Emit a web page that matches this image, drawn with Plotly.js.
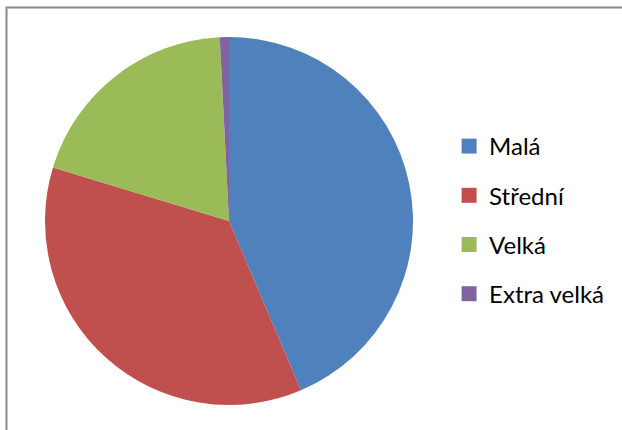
<!DOCTYPE html>
<html>
<head>
<meta charset="utf-8">
<script src="https://cdn.plot.ly/plotly-3.0.1.min.js"></script>
<style>html,body{margin:0;padding:0;background:#fff;}#chart{width:622px;height:430px;}</style>
</head>
<body>
<div id="chart"></div>
<script>
const categories = ["Malá", "Střední", "Velká", "Extra velká"];
const values = [43.6, 36.1, 19.5, 0.8];
const colors = ["#4F81BD", "#C0504D", "#9BBB59", "#8064A2"];

const W = 622, H = 430;
const cx = 229, cy = 221, r = 184;

const pie = {
  type: "pie",
  labels: categories,
  values: values,
  sort: false,
  direction: "clockwise",
  rotation: 0,
  marker: {colors: colors, line: {width: 0}},
  textinfo: "none",
  hoverinfo: "label+percent",
  showlegend: false,
  domain: {x: [(cx - r) / W, (cx + r) / W], y: [(H - cy - r) / H, (H - cy + r) / H]}
};

const legendTraces = categories.map((c, i) => ({
  type: "scatter",
  mode: "markers",
  x: [null], y: [null],
  name: c,
  legendgroup: "g" + i,
  marker: {symbol: "square", size: 15, color: colors[i]},
  hoverinfo: "skip"
}));

const layout = {
  width: W, height: H,
  margin: {l: 0, r: 0, t: 0, b: 0},
  paper_bgcolor: "#fff",
  plot_bgcolor: "rgba(0,0,0,0)",
  xaxis: {visible: false},
  yaxis: {visible: false},
  showlegend: true,
  legend: {
    x: 0.722, y: 0.5 - 5 / H, xanchor: "left", yanchor: "middle",
    font: {family: "Lato, 'Noto Sans', sans-serif", size: 24, color: "#000"},
    tracegroupgap: 15,
    bgcolor: "rgba(0,0,0,0)"
  },
  shapes: [{
    type: "rect", xref: "paper", yref: "paper",
    x0: 6.5 / W, x1: (W + 10) / W, y0: -10 / H, y1: (H - 7.5) / H,
    line: {color: "#8c8c8c", width: 2}, fillcolor: "rgba(0,0,0,0)"
  }]
};

Plotly.newPlot("chart", [pie].concat(legendTraces), layout, {displayModeBar: false, staticPlot: true});
</script>
</body>
</html>
